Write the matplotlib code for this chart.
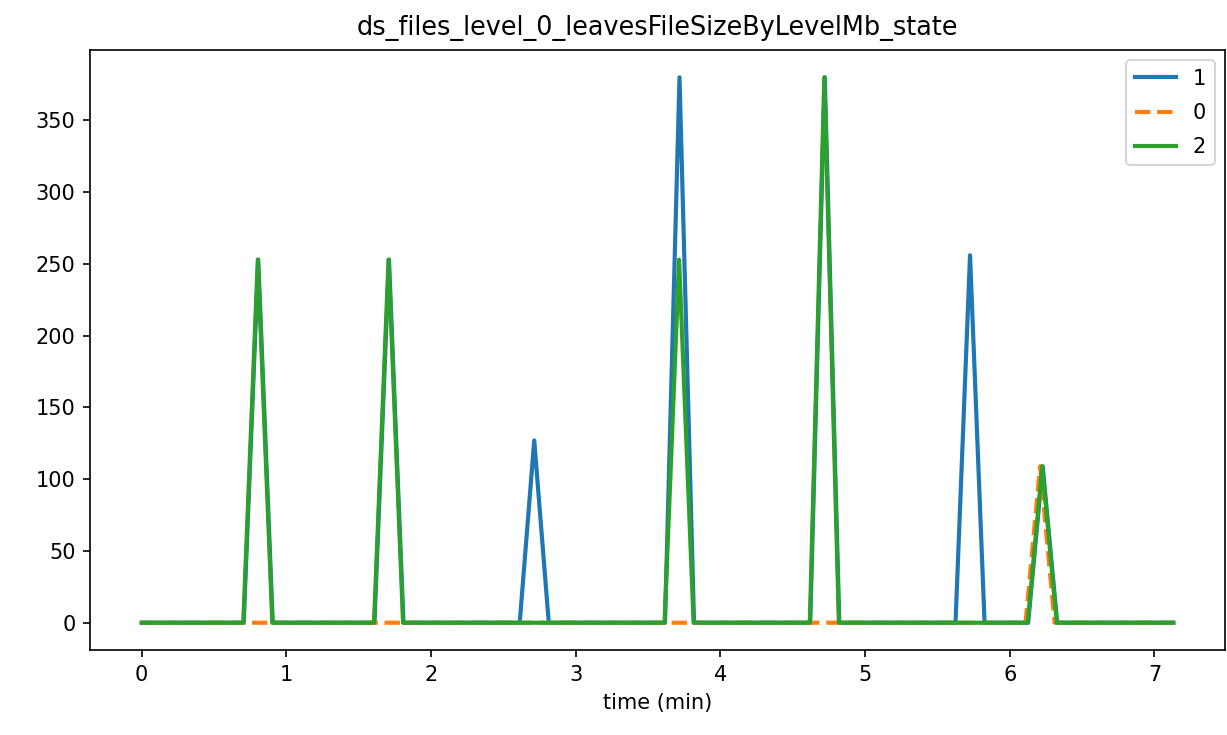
import numpy as np
import matplotlib
matplotlib.use("Agg")
import matplotlib.pyplot as plt

# sample grid (minutes): 72 samples, ~6 s apart
step = 0.1004
n_samples = 72
start_1 = 0.003
start_0 = -0.015
start_2 = 0.0

# series values (Mb) per sample index
series_1 = [0]*72
series_0 = [0]*72
series_2 = [0]*72
peaks_1 = {8: 253, 17: 253, 27: 127, 37: 380, 47: 380, 57: 256, 62: 109}
peaks_0 = {62: 109}
peaks_2 = {8: 253, 17: 253, 37: 253, 47: 380, 62: 109}
for k, v in peaks_1.items():
    series_1[k] = v
for k, v in peaks_0.items():
    series_0[k] = v
for k, v in peaks_2.items():
    series_2[k] = v

idx = np.arange(n_samples)
t1 = start_1 + step * idx
t0 = start_0 + step * idx
t2 = start_2 + step * idx
t0[0] = 0.0

W, H, DPI = 1227, 735, 150
fig = plt.figure(figsize=(W / DPI, H / DPI), dpi=DPI)
ax = fig.add_axes([90 / W, 1 - 650 / H, (1225 - 90) / W, (650 - 50) / H])

ax.plot(t1, series_1, color="#1f77b4", lw=2, label="1")
ax.plot(t0, series_0, color="#ff7f0e", lw=2, ls="--", label="0")
ax.plot(t2, series_2, color="#2ca02c", lw=2, label="2")

ax.set_xticks([0, 1, 2, 3, 4, 5, 6, 7])
ax.set_yticks([0, 50, 100, 150, 200, 250, 300, 350])
ax.set_xlabel("time (min)")
ax.set_title("ds_files_level_0_leavesFileSizeByLevelMb_state", fontsize=12.25, pad=7)
ax.legend(loc="upper right", labelspacing=0.68)

fig.savefig("out.png", dpi=DPI)
